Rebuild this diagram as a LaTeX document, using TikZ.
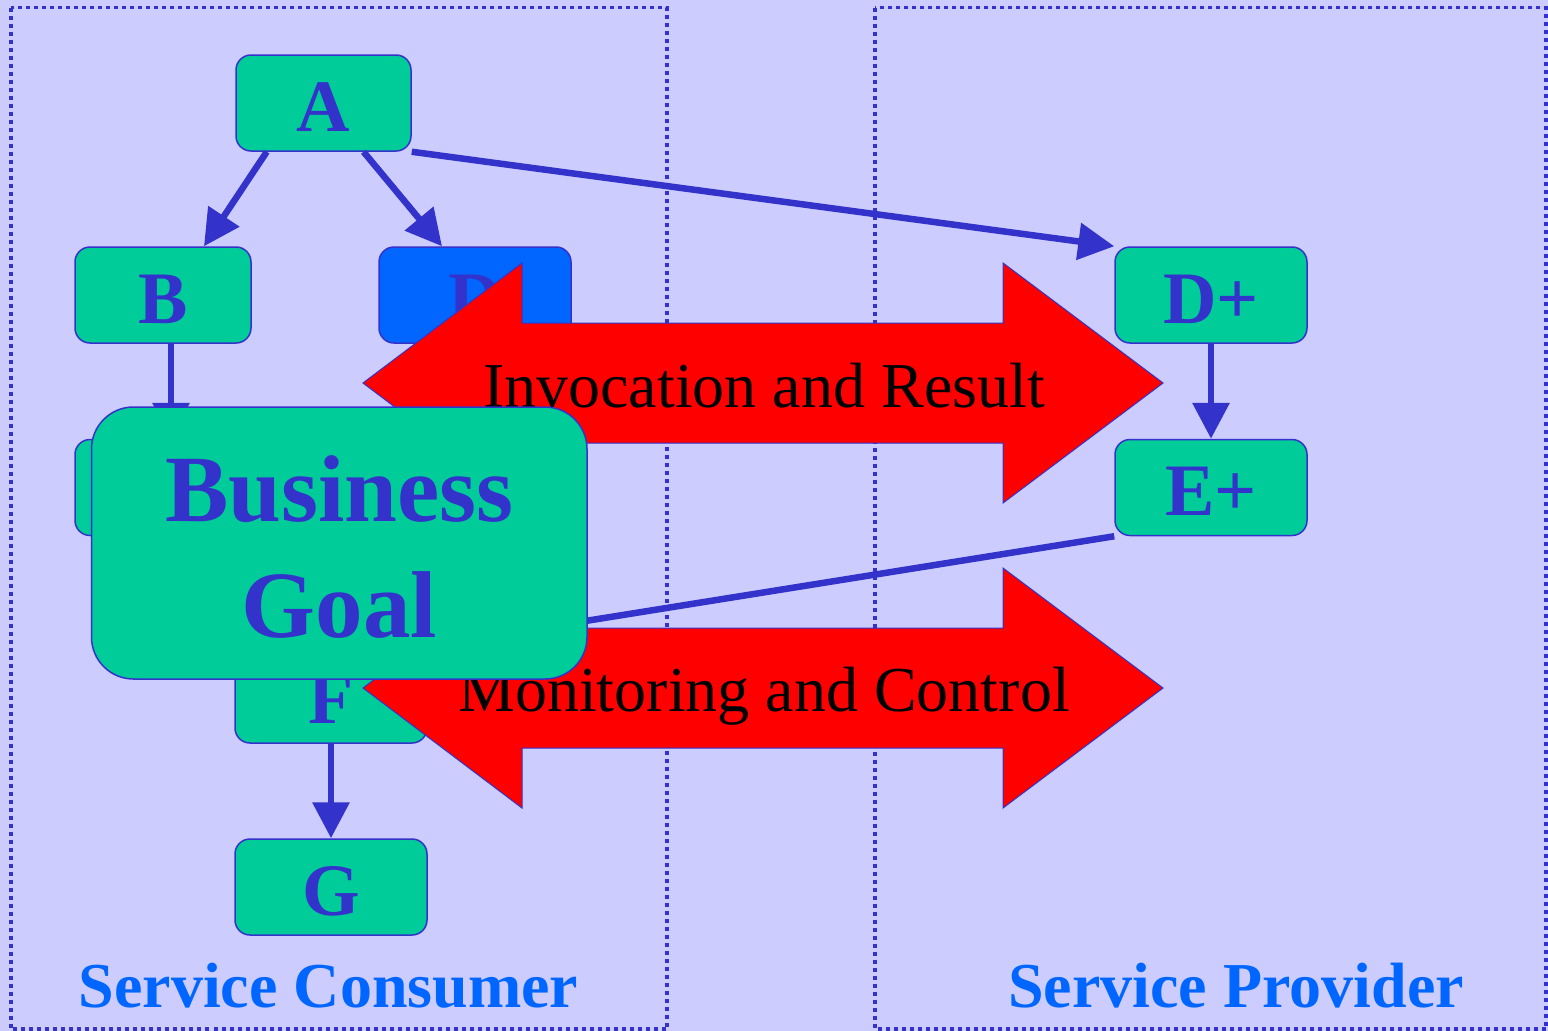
\documentclass[tikz,border=0pt]{standalone}
\usepackage{fontspec}
\setmainfont{Liberation Serif}
\usetikzlibrary{arrows.meta}
\definecolor{bg}{HTML}{CCCCFF}
\definecolor{edge}{HTML}{3333CC}
\definecolor{nodefill}{HTML}{00CC99}
\definecolor{dblue}{HTML}{0066FF}
\definecolor{arrred}{HTML}{FF0000}
\begin{document}
\begin{tikzpicture}[x=1pt,y=-1pt,
  box/.style={draw=edge, line width=1.5pt, fill=nodefill, rounded corners=15pt,
    minimum height=96pt, inner sep=0pt, text=edge, text height=56pt, text depth=0pt,
    font=\fontsize{74}{80}\selectfont\bfseries},
  conn/.style={draw=edge, line width=6.5pt, -{Triangle[length=36pt,width=36pt]}},
  panel/.style={draw=edge, line width=3.5pt, dash pattern=on 4pt off 4pt},
  bigarrow/.style={draw=edge, line width=1pt, fill=arrred},
  arrowtext/.style={anchor=base, inner sep=0pt, text=black, font=\fontsize{64}{70}\selectfont},
  sidelabel/.style={anchor=base, inner sep=0pt, text=dblue, font=\fontsize{64}{70}\selectfont\bfseries}
]
\useasboundingbox (0,0) rectangle (1548,1031);
\fill[bg] (0,0) rectangle (1548,1031);

% panels
\draw[panel] (11,7.5) rectangle (667,1029);
\draw[panel] (875,7.5) rectangle (1546,1029);

% nodes
\node[box, minimum width=175pt] (A) at (323.5,103) {A};
\node[box, minimum width=176pt] (B) at (163,295) {B};
\node[box, minimum width=192pt, fill=dblue] (D) at (475,295) {D};
\node[box, minimum width=192pt] (Dp) at (1211,295) {D+};
\node[box, minimum width=192pt] (Ep) at (1211,487.5) {E+};
\node[box, minimum width=176pt] (C) at (163,487.5) {};
\node[box, minimum width=192pt] (F) at (331,695) {F};
\node[box, minimum width=192pt] (G) at (331,887) {G};

% connectors
\draw[conn] ([xshift=31.5pt]A.south west) -- ([xshift=41pt]B.north);
\draw[conn] ([xshift=40pt]A.south) -- ([xshift=-33pt]D.north);
\draw[conn] (A.south east) -- (Dp.north west);
\draw[conn] ([xshift=8pt]B.south) -- ([xshift=8pt]C.north);
\draw[conn] (Dp.south) -- (Ep.north);
\draw[conn] (Ep.south west) -- (F.north east);
\draw[conn] (F.south) -- (G.north);

% big double arrows
\draw[bigarrow] (363,383) -- (522,263) -- (522,323) -- (1003,323) -- (1003,263)
  -- (1163,383) -- (1003,503) -- (1003,443) -- (522,443) -- (522,503) -- cycle;
\draw[bigarrow] (363,688) -- (522,568) -- (522,628) -- (1003,628) -- (1003,568)
  -- (1163,688) -- (1003,808) -- (1003,748) -- (522,748) -- (522,808) -- cycle;
\node[arrowtext] (inv) at (764,407) {Invocation and Result};
\node[arrowtext] (mon) at (764,711) {Monitoring and Control};

% business goal
\node[draw=edge, line width=1.5pt, fill=nodefill, rounded corners=42pt,
  minimum width=495.5pt, minimum height=272pt, inner sep=0pt] (goal) at (339.25,543) {};
\node[align=center, inner sep=0pt, text=edge,
  font=\fontsize{95}{116}\selectfont\bfseries] (goaltxt) at (339.5,546.5) {Business\\Goal};

% side labels
\node[sidelabel] (cons) at (328.5,1007) {Service Consumer};
\node[sidelabel] (prov) at (1236,1007) {Service Provider};
\end{tikzpicture}
\end{document}
